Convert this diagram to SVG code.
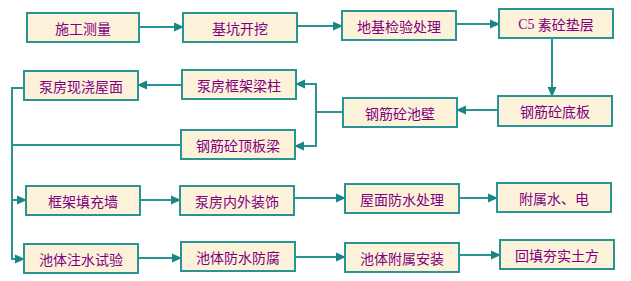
<svg xmlns="http://www.w3.org/2000/svg" width="631" height="281" viewBox="0 0 631 281">
<defs>
<style>
.box{fill:#FCF2DA;stroke:#2A9494;stroke-width:2}
.t{font-family:"Noto Sans CJK SC","Noto Sans",sans-serif;font-size:14px;fill:#800080;text-anchor:middle;dominant-baseline:central}
.c{fill:none;stroke:#2A9494;stroke-width:2}
</style>
<marker id="ah" markerWidth="10" markerHeight="10" refX="9" refY="5" orient="auto" markerUnits="userSpaceOnUse">
<path d="M0,0.5 L10,5 L0,9.5 Z" fill="#1A8585"/>
</marker>
</defs>
<rect width="631" height="281" fill="#FFFFFF"/>
<g id="connectors">
<line class="c" x1="139" y1="27" x2="183" y2="27" marker-end="url(#ah)"/>
<line class="c" x1="297" y1="26" x2="342" y2="26" marker-end="url(#ah)"/>
<line class="c" x1="456" y1="24" x2="499" y2="24" marker-end="url(#ah)"/>
<line class="c" x1="552" y1="38" x2="552" y2="96" marker-end="url(#ah)"/>
<line class="c" x1="498" y1="110" x2="457" y2="110" marker-end="url(#ah)"/>
<polyline class="c" points="343,112 316,112"/>
<polyline class="c" points="316,84 316,146"/>
<line class="c" x1="317" y1="84" x2="296" y2="84" marker-end="url(#ah)"/>
<line class="c" x1="317" y1="146" x2="295" y2="146" marker-end="url(#ah)"/>
<line class="c" x1="182" y1="85" x2="138" y2="85" marker-end="url(#ah)"/>
<polyline class="c" points="24,88 12,88 12,259"/>
<line class="c" x1="181" y1="145" x2="12" y2="145"/>
<line class="c" x1="11" y1="200" x2="26" y2="200" marker-end="url(#ah)"/>
<line class="c" x1="11" y1="259" x2="24" y2="259" marker-end="url(#ah)"/>
<line class="c" x1="140" y1="200" x2="180" y2="200" marker-end="url(#ah)"/>
<line class="c" x1="294" y1="198" x2="345" y2="198" marker-end="url(#ah)"/>
<line class="c" x1="459" y1="198" x2="497" y2="198" marker-end="url(#ah)"/>
<line class="c" x1="138" y1="258" x2="181" y2="258" marker-end="url(#ah)"/>
<line class="c" x1="295" y1="257" x2="345" y2="257" marker-end="url(#ah)"/>
<line class="c" x1="459" y1="255" x2="500" y2="255" marker-end="url(#ah)"/>
</g>
<g id="n1"><rect class="box" x="27" y="13" width="112" height="29"/><text class="t" x="83" y="27.5">施工测量</text></g>
<g id="n2"><rect class="box" x="183" y="13" width="114" height="29"/><text class="t" x="240" y="27.5">基坑开挖</text></g>
<g id="n3"><rect class="box" x="342" y="11" width="114" height="29"/><text class="t" x="399" y="25.5">地基检验处理</text></g>
<g id="n4"><rect class="box" x="499" y="9" width="114" height="29"/><text class="t" x="556" y="23.5"><tspan font-family="Liberation Serif,serif">C5</tspan> 素砼垫层</text></g>
<g id="n5"><rect class="box" x="498" y="96" width="114" height="30"/><text class="t" x="555" y="111">钢筋砼底板</text></g>
<g id="n6"><rect class="box" x="343" y="98" width="114" height="29"/><text class="t" x="400" y="112.5">钢筋砼池壁</text></g>
<g id="n7"><rect class="box" x="182" y="70" width="114" height="29"/><text class="t" x="239" y="84.5">泵房框架梁柱</text></g>
<g id="n8"><rect class="box" x="24" y="71" width="114" height="29"/><text class="t" x="81" y="85.5">泵房现浇屋面</text></g>
<g id="n9"><rect class="box" x="181" y="130" width="114" height="29"/><text class="t" x="238" y="144.5">钢筋砼顶板梁</text></g>
<g id="n10"><rect class="box" x="26" y="186" width="114" height="29"/><text class="t" x="83" y="200.5">框架填充墙</text></g>
<g id="n11"><rect class="box" x="180" y="186" width="114" height="29"/><text class="t" x="237" y="200.5">泵房内外装饰</text></g>
<g id="n12"><rect class="box" x="345" y="184" width="114" height="29"/><text class="t" x="402" y="198.5">屋面防水处理</text></g>
<g id="n13"><rect class="box" x="497" y="183" width="114" height="29"/><text class="t" x="554" y="197.5">附属水、电</text></g>
<g id="n14"><rect class="box" x="24" y="244" width="114" height="29"/><text class="t" x="81" y="258.5">池体注水试验</text></g>
<g id="n15"><rect class="box" x="181" y="242" width="114" height="29"/><text class="t" x="238" y="256.5">池体防水防腐</text></g>
<g id="n16"><rect class="box" x="345" y="243" width="114" height="29"/><text class="t" x="402" y="257.5">池体附属安装</text></g>
<g id="n17"><rect class="box" x="500" y="240" width="114" height="29"/><text class="t" x="557" y="254.5">回填夯实土方</text></g>
</svg>
